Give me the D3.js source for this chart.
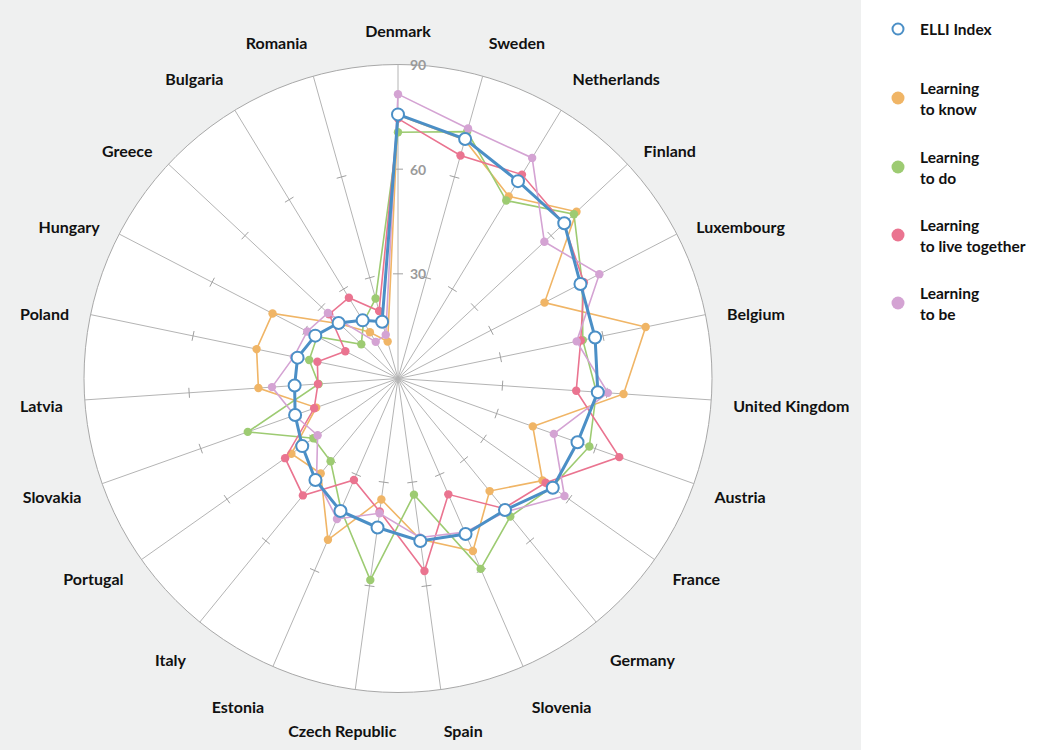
<!DOCTYPE html>
<html>
<head>
<meta charset="utf-8">
<script src="https://d3js.org/d3.v7.min.js"></script>
<style>
  body { margin: 0; background: #fff; }
  svg { display: block; font-family: Lato, "Noto Sans", sans-serif; }
  .country { font-weight: 700; font-size: 16px; fill: #111; }
  .tick-label { font-size: 14px; fill: #9a9a9a; font-weight: 700; }
  .legend text { font-weight: 700; font-size: 15.5px; fill: #111; }
</style>
</head>
<body>
<svg id="chart" width="1052" height="750"></svg>
<script>
// countries, clockwise from the top
const countries = ['Denmark', 'Sweden', 'Netherlands', 'Finland', 'Luxembourg', 'Belgium',
  'United Kingdom', 'Austria', 'France', 'Germany', 'Slovenia', 'Spain', 'Czech Republic',
  'Estonia', 'Italy', 'Portugal', 'Slovakia', 'Latvia', 'Poland', 'Hungary', 'Greece',
  'Bulgaria', 'Romania'];

const radialTicks = [30, 60, 90];

const elliIndex = [75.7, 71.3, 66.2, 65.2, 58.9, 57.7, 57.4, 54.6, 54.3, 48.6, 48.6, 47.0,
  43.1, 41.4, 37.5, 33.6, 31.3, 29.7, 29.4, 26.7, 23.3, 19.5, 16.9];
const learningToKnow = [75.5, 71.0, 61.1, 70.0, 47.3, 72.5, 64.8, 41.0, 50.7, 41.6, 53.9, 46.5,
  35.0, 50.4, 35.1, 37.4, 24.9, 40.1, 41.4, 40.5, 23.0, 15.5, 11.0];
const learningToDo = [70.6, 73.5, 59.7, 69.0, 59.5, 54.1, 57.0, 58.2, 54.0, 51.0, 59.5, 33.6,
  58.3, 41.0, 30.6, 29.7, 45.7, 22.8, 26.0, 26.1, 14.4, 19.0, 23.8];
const learningToLiveTogether = [74.5, 66.4, 68.4, 65.0, 60.0, 53.5, 51.2, 67.3, 51.8, 48.0, 36.2, 55.7,
  38.5, 31.7, 43.2, 39.6, 25.5, 23.0, 23.6, 17.0, 27.0, 27.1, 20.1];
const learningToBe = [81.5, 74.4, 74.0, 57.4, 65.0, 52.3, 60.3, 47.4, 58.4, 49.2, 48.0, 46.0,
  39.0, 43.9, 37.0, 28.2, 31.5, 36.2, 30.5, 29.3, 27.5, 12.3, 13.0];

const series = [
  { name: ['Learning', 'to know'], values: learningToKnow, color: '#f0b566' },
  { name: ['Learning', 'to do'], values: learningToDo, color: '#9dcb72' },
  { name: ['Learning', 'to live together'], values: learningToLiveTogether, color: '#ea7490' },
  { name: ['Learning', 'to be'], values: learningToBe, color: '#d4a3d3' }
];
const elli = { name: ['ELLI Index'], values: elliIndex, color: '#4b8fc6' };

const svg = d3.select('#chart');
const cx = 398, cy = 378.5, R = 314;

svg.append('rect').attr('width', 861).attr('height', 750).attr('fill', '#eff0f0');

const r = d3.scaleLinear().domain([0, 90]).range([0, R]);
const angle = d3.scalePoint().domain(countries).range([0, 2 * Math.PI * (countries.length - 1) / countries.length]);

const g = svg.append('g').attr('transform', `translate(${cx},${cy})`);

g.append('circle').attr('r', R).attr('fill', '#fff').attr('stroke', '#a8a8a8').attr('stroke-width', 1);

// spokes with little cross ticks
countries.forEach(c => {
  const a = angle(c);
  const s = Math.sin(a), co = -Math.cos(a);
  g.append('line')
    .attr('x1', 0).attr('y1', 0)
    .attr('x2', R * s).attr('y2', R * co)
    .attr('stroke', '#b4b4b4').attr('stroke-width', 1);
  radialTicks.slice(0, 2).forEach(t => {
    const px = r(t) * s, py = r(t) * co;
    g.append('line')
      .attr('x1', px - 5 * co).attr('y1', py + 5 * s)
      .attr('x2', px + 5 * co).attr('y2', py - 5 * s)
      .attr('stroke', '#a0a0a0').attr('stroke-width', 1);
  });
});

// radial axis labels on the Denmark spoke
radialTicks.forEach(t => {
  g.append('text').attr('class', 'tick-label')
    .attr('x', 12).attr('y', -r(t))
    .attr('dominant-baseline', 'central')
    .text(t);
});

// country labels: pushed further out near the top and the bottom
countries.forEach(c => {
  const a = angle(c);
  const s = Math.sin(a), co = Math.cos(a);
  let anchor = 'middle';
  if (s > 0.05) anchor = 'start';
  else if (s < -0.2) anchor = 'end';
  let extra = -co * 10;
  if (co > 0.75) extra = -22;
  else if (co < -0.7) extra = 21;
  g.append('text').attr('class', 'country')
    .attr('x', 336 * s - (anchor === 'middle' && s < 0 ? 10 : 0))
    .attr('y', -330 * co + 4 + extra)
    .attr('text-anchor', anchor)
    .attr('dominant-baseline', 'central')
    .text(c);
});

const line = d3.lineRadial()
  .angle((d, i) => angle(countries[i]))
  .radius(d => r(d))
  .curve(d3.curveLinearClosed);

function point(d, i) {
  const a = angle(countries[i]);
  return [r(d) * Math.sin(a), -r(d) * Math.cos(a)];
}

series.forEach(sr => {
  const sg = g.append('g');
  sg.append('path').attr('d', line(sr.values))
    .attr('fill', 'none').attr('stroke', sr.color).attr('stroke-width', 1.6);
  sg.selectAll('circle').data(sr.values).enter().append('circle')
    .attr('cx', (d, i) => point(d, i)[0])
    .attr('cy', (d, i) => point(d, i)[1])
    .attr('r', 4.2).attr('fill', sr.color);
});

const eg = g.append('g');
eg.append('path').attr('d', line(elli.values))
  .attr('fill', 'none').attr('stroke', elli.color).attr('stroke-width', 3);
eg.selectAll('circle').data(elli.values).enter().append('circle')
  .attr('cx', (d, i) => point(d, i)[0])
  .attr('cy', (d, i) => point(d, i)[1])
  .attr('r', 6).attr('fill', '#fff').attr('stroke', elli.color).attr('stroke-width', 2);

// legend
const legend = svg.append('g').attr('class', 'legend');
const legendItems = [elli].concat(series);
const legendY = [29, 98, 167, 235, 303];
legendItems.forEach((it, i) => {
  const y = legendY[i];
  if (it === elli) {
    legend.append('circle').attr('cx', 898).attr('cy', y).attr('r', 5.5)
      .attr('fill', '#fff').attr('stroke', it.color).attr('stroke-width', 2);
  } else {
    legend.append('circle').attr('cx', 898).attr('cy', y).attr('r', 6.5).attr('fill', it.color);
  }
  const lines = it.name;
  lines.forEach((t, k) => {
    legend.append('text')
      .attr('x', 920)
      .attr('y', y + (k - (lines.length - 1) / 2) * 21)
      .attr('dominant-baseline', 'central')
      .text(t);
  });
});
</script>
</body>
</html>
